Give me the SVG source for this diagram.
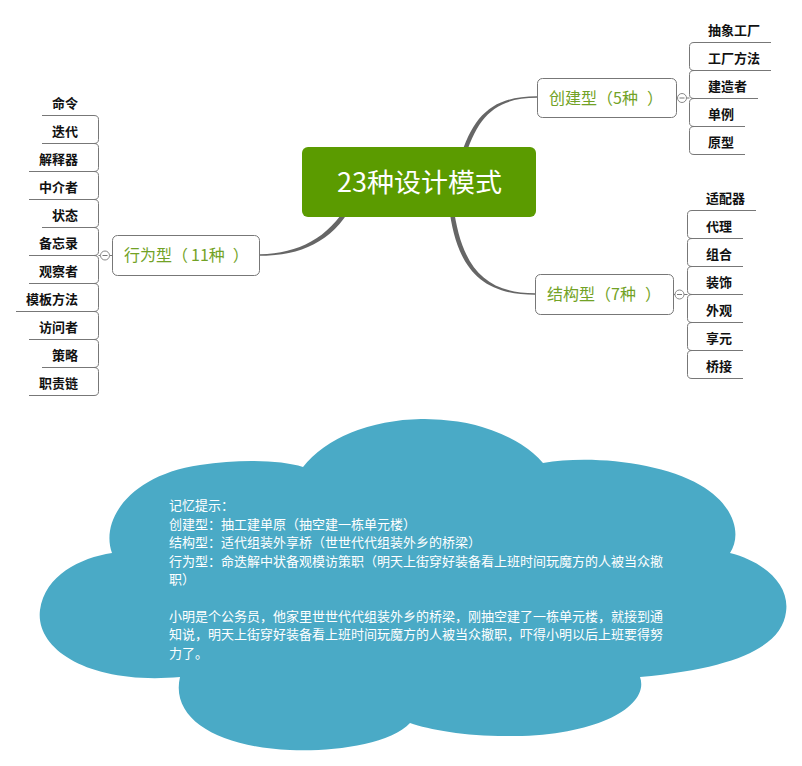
<svg xmlns="http://www.w3.org/2000/svg" width="802" height="766" viewBox="0 0 802 766">
<style>
.bg{fill:#ffffff}
.main{fill:#666666;stroke:none}
.br{fill:none;stroke:#777777;stroke-width:1}
.ul{fill:none;stroke:#777777;stroke-width:1}
.topic{fill:#ffffff;stroke:#777777;stroke-width:1}
.tt{font-family:"Noto Sans CJK SC","Noto Sans",sans-serif;font-size:16px;fill:#72a226}
.leaf{font-family:"Noto Sans CJK SC","Noto Sans",sans-serif;font-size:13px;font-weight:700;fill:#111111}
.lr{text-anchor:end}
.col{fill:#ffffff;stroke:#888888;stroke-width:1}
.note{font-family:"Noto Sans CJK SC","Noto Sans",sans-serif;font-size:13px;fill:#ffffff}
</style>
<rect class="bg" x="0" y="0" width="802" height="766"/>

<g id="connectors">
  <path class="main" d="M 459.9 159.4 C 473 114 494 96.2 537 96.2 L 537 97.8 C 496 97.8 477 116 464.1 160.6 Z"/>
  <path class="main" d="M 453.2 204.7 C 461 264 482 293.2 535 293.2 L 535 294.8 C 479 294.8 456 266 448.8 205.3 Z"/>
  <path class="main" d="M 351.9 206.1 C 332 242 301 255.8 260 255.8 L 260 254.2 C 299 253.2 328 238 348.1 203.9 Z"/>
  <path class="br" d="M 94 115.5 Q 98.5 115.5 98.5 119.5 V 139.5 Q 98.5 143.5 94 143.5 Q 98.5 143.5 98.5 147.5 V 167.5 Q 98.5 171.5 94 171.5 Q 98.5 171.5 98.5 175.5 V 195.5 Q 98.5 199.5 94 199.5 Q 98.5 199.5 98.5 203.5 V 223.5 Q 98.5 227.5 94 227.5 Q 98.5 227.5 98.5 231.5 V 251.5 Q 98.5 255.5 94 255.5 Q 98.5 255.5 98.5 259.5 V 279.5 Q 98.5 283.5 94 283.5 Q 98.5 283.5 98.5 287.5 V 307.5 Q 98.5 311.5 94 311.5 Q 98.5 311.5 98.5 315.5 V 335.5 Q 98.5 339.5 94 339.5 Q 98.5 339.5 98.5 343.5 V 363.5 Q 98.5 367.5 94 367.5 Q 98.5 367.5 98.5 371.5 V 391.5 Q 98.5 395.5 94 395.5"/>
  <path class="br" d="M 98.5 255.5 H 100.5 M 109.5 255.5 H 112.5"/>
  <path class="br" d="M 694 42.5 Q 689.5 42.5 689.5 46.5 V 66.5 Q 689.5 70.5 694 70.5 Q 689.5 70.5 689.5 74.5 V 94.5 Q 689.5 98.5 694 98.5 Q 689.5 98.5 689.5 102.5 V 122.5 Q 689.5 126.5 694 126.5 Q 689.5 126.5 689.5 130.5 V 150.5 Q 689.5 154.5 694 154.5"/>
  <path class="br" d="M 676.5 98 H 677.5 M 686.5 98 H 689.5"/>
  <path class="br" d="M 692 210.5 Q 687.5 210.5 687.5 214.5 V 234.5 Q 687.5 238.5 692 238.5 Q 687.5 238.5 687.5 242.5 V 262.5 Q 687.5 266.5 692 266.5 Q 687.5 266.5 687.5 270.5 V 290.5 Q 687.5 294.5 692 294.5 Q 687.5 294.5 687.5 298.5 V 318.5 Q 687.5 322.5 692 322.5 Q 687.5 322.5 687.5 326.5 V 346.5 Q 687.5 350.5 692 350.5 Q 687.5 350.5 687.5 354.5 V 374.5 Q 687.5 378.5 692 378.5"/>
  <path class="br" d="M 673.5 294.5 H 675 M 684 294.5 H 687.5"/>
</g>

<g id="root">
  <rect x="302" y="147" width="234" height="70" rx="6" ry="6" fill="#5b9b00"/>
  <text x="337" y="192" textLength="165" lengthAdjust="spacingAndGlyphs" font-family="'Noto Sans CJK SC','Noto Sans',sans-serif" font-size="26.5" fill="#ffffff">23种设计模式</text>
</g>

<g id="creational">
  <rect class="topic" x="537.5" y="78.5" width="139" height="39" rx="5" ry="5"/>
  <text class="tt" x="549" y="103.5">创建型（5种<tspan dx="9">）</tspan></text>
  <circle class="col" cx="682" cy="98" r="4.5"/>
  <path class="br" d="M 679.5 98 H 684.5"/>
</g>
<g id="structural">
  <rect class="topic" x="535.5" y="274.5" width="138" height="40" rx="5" ry="5"/>
  <text class="tt" x="547" y="300">结构型（7种<tspan dx="9">）</tspan></text>
  <circle class="col" cx="679.5" cy="294.5" r="4.5"/>
  <path class="br" d="M 677 294.5 H 682"/>
</g>
<g id="behavioral">
  <rect class="topic" x="112.5" y="235.5" width="147" height="40" rx="5" ry="5"/>
  <text class="tt" x="124" y="261">行为型（<tspan dx="3">11种</tspan><tspan dx="8">）</tspan></text>
  <circle class="col" cx="105" cy="255.5" r="4.5"/>
  <path class="br" d="M 102.5 255.5 H 107.5"/>
</g>

<g id="c1"><text class="leaf" x="708" y="35">抽象工厂</text><path class="ul" d="M 694 42.5 H 771"/></g>
<g id="c2"><text class="leaf" x="708" y="63">工厂方法</text><path class="ul" d="M 694 70.5 H 771"/></g>
<g id="c3"><text class="leaf" x="708" y="91">建造者</text><path class="ul" d="M 694 98.5 H 758"/></g>
<g id="c4"><text class="leaf" x="708" y="119">单例</text><path class="ul" d="M 694 126.5 H 745"/></g>
<g id="c5"><text class="leaf" x="708" y="147">原型</text><path class="ul" d="M 694 154.5 H 745"/></g>

<g id="s1"><text class="leaf" x="706" y="203">适配器</text><path class="ul" d="M 692 210.5 H 756"/></g>
<g id="s2"><text class="leaf" x="706" y="231">代理</text><path class="ul" d="M 692 238.5 H 743"/></g>
<g id="s3"><text class="leaf" x="706" y="259">组合</text><path class="ul" d="M 692 266.5 H 743"/></g>
<g id="s4"><text class="leaf" x="706" y="287">装饰</text><path class="ul" d="M 692 294.5 H 743"/></g>
<g id="s5"><text class="leaf" x="706" y="315">外观</text><path class="ul" d="M 692 322.5 H 743"/></g>
<g id="s6"><text class="leaf" x="706" y="343">享元</text><path class="ul" d="M 692 350.5 H 743"/></g>
<g id="s7"><text class="leaf" x="706" y="371">桥接</text><path class="ul" d="M 692 378.5 H 743"/></g>

<g id="b1"><text class="leaf lr" x="78" y="108">命令</text><path class="ul" d="M 42 115.5 H 94"/></g>
<g id="b2"><text class="leaf lr" x="78" y="136">迭代</text><path class="ul" d="M 42 143.5 H 94"/></g>
<g id="b3"><text class="leaf lr" x="78" y="164">解释器</text><path class="ul" d="M 29 171.5 H 94"/></g>
<g id="b4"><text class="leaf lr" x="78" y="192">中介者</text><path class="ul" d="M 29 199.5 H 94"/></g>
<g id="b5"><text class="leaf lr" x="78" y="220">状态</text><path class="ul" d="M 42 227.5 H 94"/></g>
<g id="b6"><text class="leaf lr" x="78" y="248">备忘录</text><path class="ul" d="M 29 255.5 H 94"/></g>
<g id="b7"><text class="leaf lr" x="78" y="276">观察者</text><path class="ul" d="M 29 283.5 H 94"/></g>
<g id="b8"><text class="leaf lr" x="78" y="304">模板方法</text><path class="ul" d="M 16 311.5 H 94"/></g>
<g id="b9"><text class="leaf lr" x="78" y="332">访问者</text><path class="ul" d="M 29 339.5 H 94"/></g>
<g id="b10"><text class="leaf lr" x="78" y="360">策略</text><path class="ul" d="M 42 367.5 H 94"/></g>
<g id="b11"><text class="leaf lr" x="78" y="388">职责链</text><path class="ul" d="M 29 395.5 H 94"/></g>

<g id="cloud">
  <path fill="#4aaac6" d="M 303 467 A 135 85 0 0 1 543 463 C 590 455 660 462 700 485 C 735 505 742 535 730 553 C 765 562 790 585 786 612 C 782 645 740 668 640 677 C 650 705 600 735 515 736 C 470 737 430 730 410 723 C 390 745 330 752 290 750 C 220 747 170 720 180 677 C 90 685 35 650 40 610 C 45 575 80 558 112 553 C 100 520 130 475 200 465 C 240 459 280 460 303 467 Z"/>
  <text class="note" x="169" y="510">记忆提示：</text>
  <text class="note" x="169" y="528.5">创建型：抽工建单原（抽空建一栋单元楼）</text>
  <text class="note" x="169" y="547">结构型：适代组装外享桥（世世代代组装外乡的桥梁）</text>
  <text class="note" x="169" y="565.5">行为型：命迭解中状备观模访策职（明天上街穿好装备看上班时间玩魔方的人被当众撤</text>
  <text class="note" x="169" y="584">职）</text>
  <text class="note" x="169" y="620.5">小明是个公务员，他家里世世代代组装外乡的桥梁，刚抽空建了一栋单元楼，就接到通</text>
  <text class="note" x="169" y="639">知说，明天上街穿好装备看上班时间玩魔方的人被当众撤职，吓得小明以后上班要得努</text>
  <text class="note" x="169" y="657.5">力了。</text>
</g>
</svg>
